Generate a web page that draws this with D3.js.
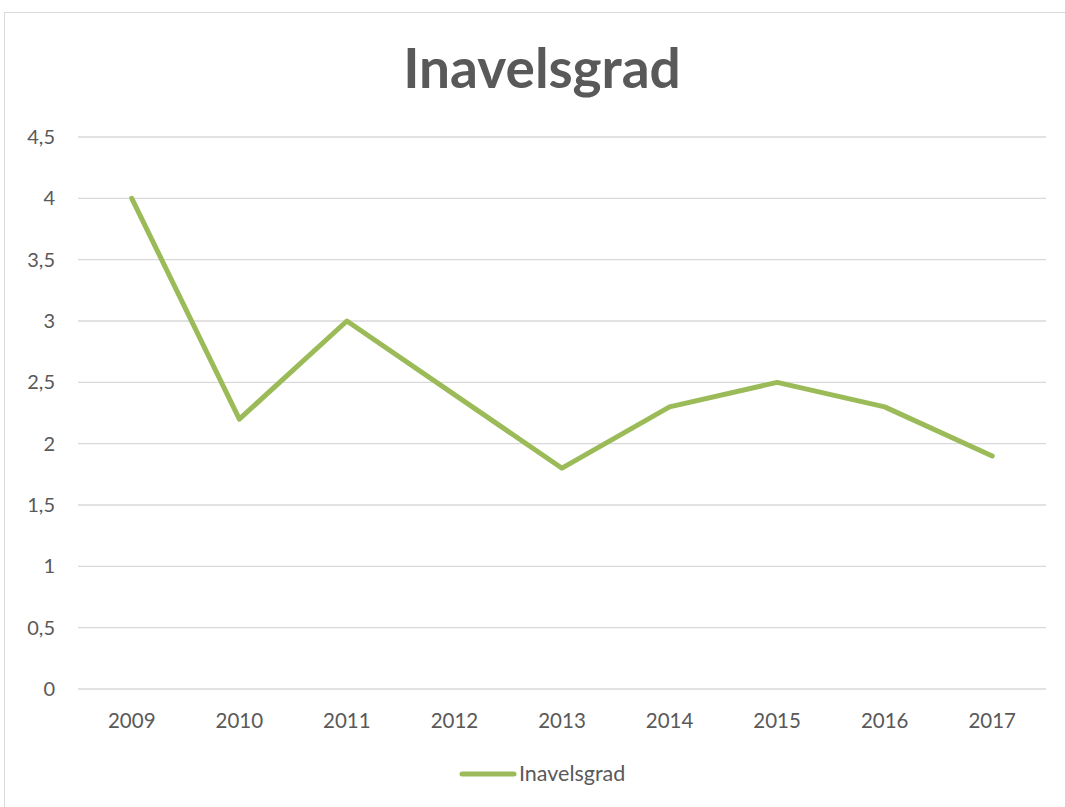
<!DOCTYPE html>
<html>
<head>
    <title>Inavelsgrad</title>
    <script src="https://cdn.jsdelivr.net/npm/d3@7/dist/d3.min.js"></script>
    <style>
        body { margin: 0; background: #fff; }
        text { font-family: Lato, "Open Sans", sans-serif; }
    </style>
</head>
<body>
    <svg width="1065" height="807" id="mainSvg"></svg>
    <script>
        // data
        const years = ["2009", "2010", "2011", "2012", "2013", "2014", "2015", "2016", "2017"];
        const values = [4, 2.2, 3, 2.4, 1.8, 2.3, 2.5, 2.3, 1.9];
        const yTicks = [0, 0.5, 1, 1.5, 2, 2.5, 3, 3.5, 4, 4.5];
        const seriesName = "Inavelsgrad";

        const svg = d3.select("#mainSvg");
        const margin = { top: 137, right: 19, bottom: 118, left: 78 };
        const width = 1065, height = 807;

        // chart area border
        svg.append("rect")
            .attr("x", 4.5).attr("y", 12.5)
            .attr("width", 1080).attr("height", 820)
            .attr("fill", "#fff")
            .attr("stroke", "#d9d9d9");

        const x = d3.scaleBand()
            .domain(years)
            .range([margin.left, width - margin.right]);

        const y = d3.scaleLinear()
            .domain([0, 4.5])
            .range([height - margin.bottom, margin.top]);

        // gridlines
        svg.append("g")
            .selectAll("line")
            .data(yTicks)
            .join("line")
            .attr("x1", margin.left).attr("x2", width - margin.right)
            .attr("y1", d => y(d)).attr("y2", d => y(d))
            .attr("stroke", "#d9d9d9")
            .attr("stroke-width", 1.3);

        const fmt = d => String(d).replace(".", ",");

        // y labels
        svg.append("g")
            .selectAll("text")
            .data(yTicks)
            .join("text")
            .attr("x", 55)
            .attr("y", d => y(d))
            .attr("dy", "0.35em")
            .attr("text-anchor", "end")
            .attr("fill", "#595959")
            .attr("font-size", 20)
            .text(fmt);

        // x labels
        svg.append("g")
            .selectAll("text")
            .data(years)
            .join("text")
            .attr("x", d => x(d) + x.bandwidth() / 2)
            .attr("y", 728)
            .attr("text-anchor", "middle")
            .attr("fill", "#595959")
            .attr("font-size", 20.5)
            .text(d => d);

        // line
        const line = d3.line()
            .x((d, i) => x(years[i]) + x.bandwidth() / 2)
            .y(d => y(d));

        svg.append("path")
            .datum(values)
            .attr("d", line)
            .attr("fill", "none")
            .attr("stroke", "#9bbb59")
            .attr("stroke-width", 5)
            .attr("stroke-linejoin", "round")
            .attr("stroke-linecap", "round");

        // title
        svg.append("text")
            .attr("x", 542)
            .attr("y", 88)
            .attr("text-anchor", "middle")
            .attr("fill", "#595959")
            .attr("font-size", 55)
            .attr("font-weight", "bold")
            .text(seriesName);

        // legend
        const legend = svg.append("g");
        legend.append("line")
            .attr("x1", 462).attr("x2", 514)
            .attr("y1", 774).attr("y2", 774)
            .attr("stroke", "#9bbb59")
            .attr("stroke-width", 5)
            .attr("stroke-linecap", "round");
        legend.append("text")
            .attr("x", 519)
            .attr("y", 781)
            .attr("fill", "#595959")
            .attr("font-size", 21.5)
            .text(seriesName);
    </script>
</body>
</html>
